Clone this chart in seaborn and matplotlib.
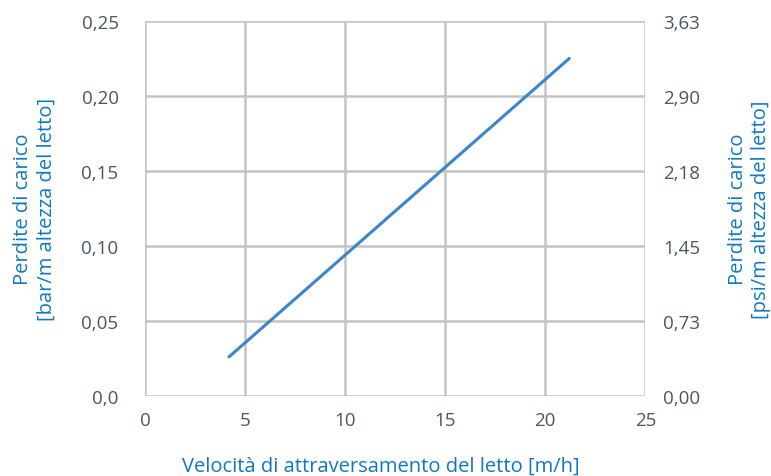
import numpy as np
import pandas as pd
import matplotlib
matplotlib.use("Agg")
import matplotlib.pyplot as plt
import seaborn as sns

# dati
velocita = [4.2, 21.2]
perdite_bar = [0.026, 0.225]
xticks = [0, 5, 10, 15, 20, 25]
yticks_bar = [0.0, 0.05, 0.10, 0.15, 0.20, 0.25]
ylabels_bar = ["0,0", "0,05", "0,10", "0,15", "0,20", "0,25"]
ylabels_psi = ["0,00", "0,73", "1,45", "2,18", "2,90", "3,63"]

df = pd.DataFrame({"v": velocita, "p": perdite_bar})

sns.set_style("white")
plt.rcParams["font.family"] = ["Open Sans", "DejaVu Sans"]

blu = "#0f78c2"
grigio_testo = "#4b5661"
grigio_griglia = "#c4c4c4"

fig = plt.figure(figsize=(7.71, 4.77), dpi=100)
ax = fig.add_axes([0.188, 0.168, 0.649, 0.786])

sns.lineplot(data=df, x="v", y="p", ax=ax, color="#3a86c8", linewidth=2.2)

ax.set_xlim(0, 25)
ax.set_ylim(0, 0.25)
ax.set_xticks(xticks)
ax.set_yticks(yticks_bar)
ax.set_yticklabels(ylabels_bar)
ax.grid(True, color=grigio_griglia, linewidth=1.8)
ax.set_axisbelow(True)
for s in ax.spines.values():
    s.set_visible(False)
ax.tick_params(axis="x", length=0, labelsize=13.5, colors=grigio_testo, pad=11)
ax.tick_params(axis="y", length=0, labelsize=13.5, colors=grigio_testo, pad=19)

ax.set_xlabel("Velocità di attraversamento del letto [m/h]", color=blu, fontsize=14.5)
ax.xaxis.set_label_coords(0.472, -0.185)
ax.xaxis.label.set_va("center")
ax.set_ylabel("Perdite di carico\n[bar/m altezza del letto]", color=blu, fontsize=14.5, labelpad=18)

ax2 = ax.twinx()
ax2.set_ylim(0, 0.25)
ax2.set_yticks(yticks_bar)
ax2.set_yticklabels(ylabels_psi)
for s in ax2.spines.values():
    s.set_visible(False)
ax2.tick_params(axis="y", length=0, labelsize=13.5, colors=grigio_testo, pad=13)
ax2.set_ylabel("Perdite di carico\n[psi/m altezza del letto]", color=blu, fontsize=14.5, labelpad=20)

plt.savefig("out.png", dpi=100)
